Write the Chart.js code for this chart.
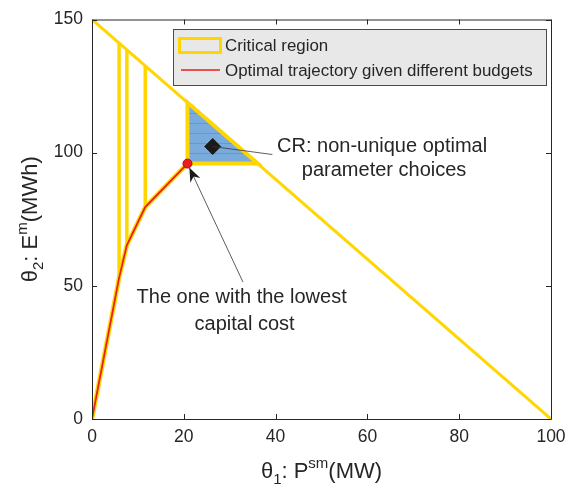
<!DOCTYPE html>
<html>
<head>
<meta charset="utf-8">
<script src="https://cdn.jsdelivr.net/npm/chart.js@4.4.1/dist/chart.umd.min.js"></script>
<style>
  html, body { margin: 0; padding: 0; background: #ffffff; }
  #wrap { width: 587px; height: 494px; position: relative; }
</style>
</head>
<body>
<div id="wrap"><canvas id="c" width="587" height="494"></canvas></div>
<script>
// ---------- data ----------
const xTicks = [0, 20, 40, 60, 80, 100];
const yTicks = [0, 50, 100, 150];

// budget frontier from (0,150) to (100,0)
const frontierX = [0, 100];
const frontierY = [150, 0];

// optimal trajectory for different budgets
const trajX = [0, 5.9, 7.6, 11.6, 20.8];
const trajY = [0, 53.0, 65.3, 79.6, 95.9];

// degenerate critical regions (vertical segments)
const crLineX = [5.9, 7.6, 11.6];
const crLineBottom = [53.0, 65.3, 79.6];
const crLineTop = [141.2, 138.6, 132.6];

// triangular critical region (non-unique optimum)
const crTriX = [20.8, 20.8, 36.1, 20.8];
const crTriY = [95.9, 118.8, 95.9, 95.9];

// marked points
const lowestCostX = [20.8];
const lowestCostY = [95.9];
const crMarkerX = [26.3];
const crMarkerY = [102.3];

const legendLabels = ['Critical region', 'Optimal trajectory given different budgets'];
const noteCR = ['CR: non-unique optimal', 'parameter choices'];
const noteLow = ['The one with the lowest', 'capital cost'];

// ---------- styling ----------
const YEL = '#FFD600';
const RED = '#E8201A';
const TXT = '#262626';
const FONT = '"Liberation Sans", Arial, sans-serif';

function pts(xs, ys) { return xs.map((x, i) => ({ x: x, y: ys[i] })); }

// striped blue fill pattern for the triangular region
function makePattern() {
  const pc = document.createElement('canvas');
  pc.width = 4; pc.height = 10;
  const g = pc.getContext('2d');
  g.fillStyle = '#79ACDD';
  g.fillRect(0, 0, 4, 10);
  g.fillStyle = '#6199D4';
  g.fillRect(0, 3, 4, 1);
  return document.getElementById('c').getContext('2d').createPattern(pc, 'repeat');
}

const datasets = [];
datasets.push({
  label: 'frontier', data: pts(frontierX, frontierY), showLine: true,
  borderColor: YEL, borderWidth: 3, pointRadius: 0, fill: false, order: 10
});
crLineX.forEach((x, i) => {
  datasets.push({
    label: 'cr' + i, data: pts([x, x], [crLineBottom[i], crLineTop[i]]), showLine: true,
    borderColor: YEL, borderWidth: 3.5, pointRadius: 0, fill: false, order: 9
  });
});
datasets.push({
  label: 'crTri', data: pts(crTriX, crTriY), showLine: true,
  borderColor: YEL, borderWidth: 4, pointRadius: 0,
  backgroundColor: makePattern(), fill: 'shape', order: 8, borderJoinStyle: 'miter'
});
datasets.push({
  label: 'trajUnder', data: pts(trajX, trajY), showLine: true,
  borderColor: YEL, borderWidth: 4.5, pointRadius: 0, fill: false, order: 7
});
datasets.push({
  label: 'traj', data: pts(trajX, trajY), showLine: true,
  borderColor: RED, borderWidth: 1.8, pointRadius: 0, fill: false, order: 6
});
datasets.push({
  label: 'lowest', data: pts(lowestCostX, lowestCostY), showLine: false,
  pointRadius: 4.5, pointBackgroundColor: '#EE1C1C', pointBorderColor: '#A01010',
  pointBorderWidth: 1, order: 5
});
datasets.push({
  label: 'crMarker', data: pts(crMarkerX, crMarkerY), showLine: false,
  pointStyle: 'rectRot', pointRadius: 8, pointBackgroundColor: '#1A1A1A',
  pointBorderColor: '#1A1A1A', pointBorderWidth: 1, order: 4
});

// ---------- custom drawing: box, inward ticks, titles, legend, annotations ----------
const decor = {
  id: 'decor',
  afterDatasetsDraw(chart) {
    const ctx = chart.ctx;
    const a = chart.chartArea;
    const xs = chart.scales.x, ys = chart.scales.y;
    ctx.save();

    // CR marker leader line
    const dx = xs.getPixelForValue(crMarkerX[0]);
    const dy = ys.getPixelForValue(crMarkerY[0]);
    ctx.strokeStyle = '#333333';
    ctx.lineWidth = 0.8;
    ctx.beginPath();
    ctx.moveTo(dx, dy);
    ctx.lineTo(xs.getPixelForValue(39.3), ys.getPixelForValue(99.3));
    ctx.stroke();

    // arrow to the lowest-cost point
    const px = xs.getPixelForValue(lowestCostX[0]);
    const py = ys.getPixelForValue(lowestCostY[0]);
    const tx = xs.getPixelForValue(32.9), ty = ys.getPixelForValue(51.4);
    const ang = Math.atan2(py - ty, px - tx);
    const tipX = px - Math.cos(ang) * 4.5, tipY = py - Math.sin(ang) * 4.5;
    ctx.beginPath();
    ctx.moveTo(tx, ty);
    ctx.lineTo(tipX, tipY);
    ctx.stroke();
    const L = 14, W = 5.5;
    const bx = tipX - Math.cos(ang) * L, by = tipY - Math.sin(ang) * L;
    const nx = -Math.sin(ang), ny = Math.cos(ang);
    const mx = tipX - Math.cos(ang) * L * 0.7, my = tipY - Math.sin(ang) * L * 0.7;
    ctx.fillStyle = '#1A1A1A';
    ctx.beginPath();
    ctx.moveTo(tipX, tipY);
    ctx.lineTo(bx + nx * W, by + ny * W);
    ctx.lineTo(mx, my);
    ctx.lineTo(bx - nx * W, by - ny * W);
    ctx.closePath();
    ctx.fill();

    // annotation texts
    ctx.fillStyle = TXT;
    ctx.font = '20px ' + FONT;
    ctx.textAlign = 'center';
    ctx.textBaseline = 'middle';
    const cx1 = xs.getPixelForValue(63.2), cy1 = ys.getPixelForValue(102.4);
    ctx.fillText(noteCR[0], cx1, cy1);
    ctx.fillText(noteCR[1], cx1 + 2, cy1 + 24);
    const cx2 = xs.getPixelForValue(32.6), cy2 = ys.getPixelForValue(45.8);
    ctx.fillText(noteLow[0], cx2, cy2);
    ctx.fillText(noteLow[1], cx2 + 3, cy2 + 27);

    // box and inward ticks
    ctx.strokeStyle = TXT;
    ctx.lineWidth = 1;
    ctx.beginPath();
    ctx.moveTo(a.left + 0.5, a.top + 0.5);
    ctx.lineTo(a.right + 0.5, a.top + 0.5);
    ctx.lineTo(a.right + 0.5, a.bottom + 0.5);
    ctx.moveTo(a.left + 0.5, a.top + 0.5);
    ctx.lineTo(a.left + 0.5, a.bottom + 0.5);
    ctx.lineTo(a.right + 0.5, a.bottom + 0.5);
    const tl = 5;
    xTicks.forEach(v => {
      const x = Math.round(xs.getPixelForValue(v)) + 0.5;
      ctx.moveTo(x, a.bottom); ctx.lineTo(x, a.bottom - tl);
      ctx.moveTo(x, a.top); ctx.lineTo(x, a.top + tl);
    });
    yTicks.forEach(v => {
      const y = Math.round(ys.getPixelForValue(v)) + 0.5;
      ctx.moveTo(a.left, y); ctx.lineTo(a.left + tl, y);
      ctx.moveTo(a.right, y); ctx.lineTo(a.right - tl, y);
    });
    ctx.stroke();

    // axis titles with sub/superscripts
    function rich(parts, x, y) {
      let w = 0;
      const big = '22px ' + FONT, small = '15px ' + FONT;
      parts.forEach(p => { ctx.font = p[1] === 'n' ? big : small; w += ctx.measureText(p[0]).width; });
      let cx = x - w / 2;
      ctx.textAlign = 'left';
      ctx.textBaseline = 'alphabetic';
      parts.forEach(p => {
        ctx.font = p[1] === 'n' ? big : small;
        const off = p[1] === 'sub' ? 6 : (p[1] === 'sup' ? -10 : 0);
        ctx.fillText(p[0], cx, y + off);
        cx += ctx.measureText(p[0]).width;
      });
    }
    ctx.fillStyle = TXT;
    rich([['θ', 'n'], ['1', 'sub'], [': P', 'n'], ['sm', 'sup'], ['(MW)', 'n']], (a.left + a.right) / 2, 478);
    ctx.save();
    ctx.translate(37, (a.top + a.bottom) / 2);
    ctx.rotate(-Math.PI / 2);
    rich([['θ', 'n'], ['2', 'sub'], [': E', 'n'], ['m', 'sup'], ['(MWh)', 'n']], 0, 0);
    ctx.restore();

    // legend
    const lx = 173.5, ly = 29.5, lw = 373, lh = 56;
    ctx.fillStyle = '#E8E8E8';
    ctx.fillRect(lx, ly, lw, lh);
    ctx.strokeStyle = '#4A4A4A';
    ctx.lineWidth = 1;
    ctx.strokeRect(lx, ly, lw, lh);
    ctx.strokeStyle = YEL;
    ctx.lineWidth = 3;
    ctx.strokeRect(179.5, 38.5, 41, 14);
    ctx.strokeStyle = RED;
    ctx.lineWidth = 1.5;
    ctx.beginPath();
    ctx.moveTo(181, 70);
    ctx.lineTo(220, 70);
    ctx.stroke();
    ctx.fillStyle = TXT;
    ctx.font = '16.9px ' + FONT;
    ctx.textAlign = 'left';
    ctx.textBaseline = 'middle';
    ctx.fillText(legendLabels[0], 225, 46);
    ctx.fillText(legendLabels[1], 225, 71);

    ctx.restore();
  }
};

new Chart(document.getElementById('c'), {
  type: 'scatter',
  data: { datasets: datasets },
  options: {
    responsive: false,
    animation: false,
    layout: { padding: { left: 0, right: 36, top: 15, bottom: 0 } },
    plugins: { legend: { display: false }, tooltip: { enabled: false } },
    elements: { line: { tension: 0, borderCapStyle: 'butt' } },
    scales: {
      x: {
        type: 'linear', min: 0, max: 100,
        afterBuildTicks: s => { s.ticks = xTicks.map(v => ({ value: v })); },
        afterFit: s => { s.height = 75; },
        grid: { display: false, drawTicks: false },
        border: { display: false },
        ticks: { color: TXT, font: { family: FONT, size: 17.5 }, padding: 8, maxRotation: 0 }
      },
      y: {
        type: 'linear', min: 0, max: 150,
        afterBuildTicks: s => { s.ticks = yTicks.map(v => ({ value: v })); },
        afterFit: s => { s.width = 92; },
        grid: { display: false, drawTicks: false },
        border: { display: false },
        ticks: { color: TXT, font: { family: FONT, size: 17.5 }, padding: 9 }
      }
    }
  },
  plugins: [decor]
});
</script>
</body>
</html>
